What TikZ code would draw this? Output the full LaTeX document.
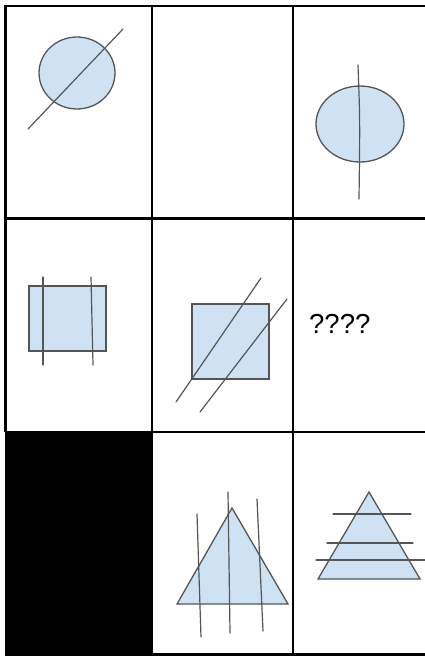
\documentclass[tikz,border=0pt]{standalone}
\usepackage{tikz}
\usepackage{fontspec}
\setmainfont{Liberation Sans}
\usetikzlibrary{positioning}
\definecolor{ShapeBlue}{HTML}{CFE2F3}
\definecolor{ShapeEdge}{HTML}{555555}
\begin{document}
\begin{tikzpicture}[
  x=1pt,y=-1pt,
  grid/.style={draw=black,line width=2.5pt},
  figure/.style={draw=ShapeEdge,fill=ShapeBlue,line width=1.3pt},
  stroke/.style={draw=ShapeEdge,line width=1.2pt,line cap=round},
]
\useasboundingbox (0,0) rectangle (425,656);
% grid
\fill (4.5,432) rectangle (153,655.5);
\draw[grid] (5.5,5) -- (5.5,432);
\draw[grid] (152,6) -- (152,655);
\draw[grid] (293,6) -- (293,655);
\draw[grid] (4.5,6) -- (425,6);
\draw[grid] (4.5,218.5) -- (425,218.5);
\draw[grid] (4.5,432) -- (425,432);
\draw[grid] (4.5,654.5) -- (425,654.5);
% row 1
\draw[figure] (77,73) ellipse [x radius=38,y radius=36];
\draw[stroke] (28,129) -- (123,29);
\draw[figure] (360,124) ellipse [x radius=44,y radius=38];
\draw[stroke] (358,65) .. controls (360,120) .. (359,199);
% row 2
\draw[figure] (29,286) rectangle (106,351);
\draw[stroke] (43,277) -- (43,365);
\draw[stroke] (91,277) -- (93,365);
\draw[figure] (192,304) rectangle (269,379);
\draw[stroke] (176,402) -- (261,278);
\draw[stroke] (200,412) -- (287,299);
\node[anchor=base west,inner sep=0pt,font=\fontsize{27.5}{30}\selectfont] (missing) at (309,333) {????};
% row 3
\draw[figure] (232,508) -- (288,604) -- (177,604) -- cycle;
\draw[stroke] (197,514) -- (201,637);
\draw[stroke] (228,492) -- (230,633);
\draw[stroke] (257,499) -- (263,631);
\draw[figure] (369,492) -- (420,579) -- (318,579) -- cycle;
\draw[stroke] (333,514) -- (411,514);
\draw[stroke] (327,543) -- (413,543);
\draw[stroke] (316,560) -- (425,560);
\end{tikzpicture}
\end{document}
